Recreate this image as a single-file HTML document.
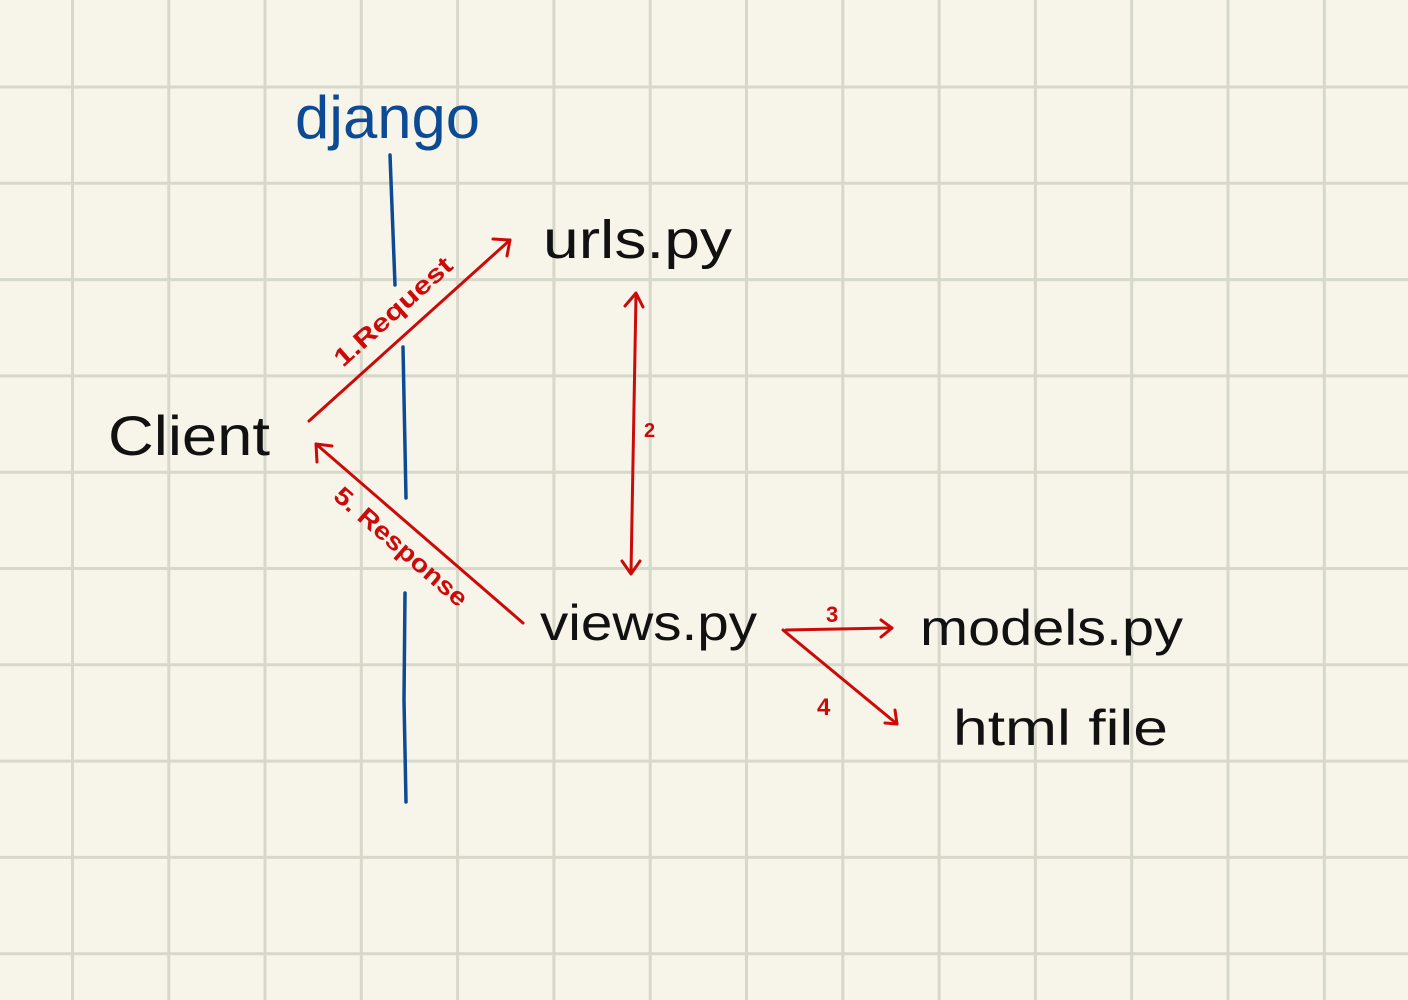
<!DOCTYPE html>
<html><head><meta charset="utf-8"><style>
html,body{margin:0;padding:0;background:#f7f5e9;}
svg{display:block}
text{font-family:"Liberation Sans",sans-serif}
</style></head><body>
<svg width="1408" height="1000" viewBox="0 0 1408 1000" xmlns="http://www.w3.org/2000/svg">
<rect width="1408" height="1000" fill="#f7f5e9"/>
<g stroke="#d6d8ca" stroke-width="3">
<line x1="72.5" y1="0" x2="72.5" y2="1000"/><line x1="168.8" y1="0" x2="168.8" y2="1000"/>
<line x1="265" y1="0" x2="265" y2="1000"/><line x1="361.3" y1="0" x2="361.3" y2="1000"/>
<line x1="457.6" y1="0" x2="457.6" y2="1000"/><line x1="553.9" y1="0" x2="553.9" y2="1000"/>
<line x1="650.2" y1="0" x2="650.2" y2="1000"/><line x1="746.5" y1="0" x2="746.5" y2="1000"/>
<line x1="842.8" y1="0" x2="842.8" y2="1000"/><line x1="939.1" y1="0" x2="939.1" y2="1000"/>
<line x1="1035.4" y1="0" x2="1035.4" y2="1000"/><line x1="1131.7" y1="0" x2="1131.7" y2="1000"/>
<line x1="1228" y1="0" x2="1228" y2="1000"/><line x1="1324.3" y1="0" x2="1324.3" y2="1000"/>
<line x1="0" y1="87" x2="1408" y2="87"/><line x1="0" y1="183.3" x2="1408" y2="183.3"/>
<line x1="0" y1="279.6" x2="1408" y2="279.6"/><line x1="0" y1="375.9" x2="1408" y2="375.9"/>
<line x1="0" y1="472.2" x2="1408" y2="472.2"/><line x1="0" y1="568.5" x2="1408" y2="568.5"/>
<line x1="0" y1="664.8" x2="1408" y2="664.8"/><line x1="0" y1="761.1" x2="1408" y2="761.1"/>
<line x1="0" y1="857.4" x2="1408" y2="857.4"/><line x1="0" y1="953.7" x2="1408" y2="953.7"/>
</g>
<g stroke="#0d4a94" stroke-width="3.5" fill="none" stroke-linecap="round">
<path d="M390 155 L395 285"/>
<path d="M403 347 L406 498"/>
<path d="M405 593 L404 700 L406 802"/>
</g>
<text x="295" y="138" font-size="60" fill="#0d4a94" textLength="185" lengthAdjust="spacingAndGlyphs">django</text>
<text x="108" y="455" font-size="56" fill="#111" textLength="162" lengthAdjust="spacingAndGlyphs">Client</text>
<text x="543" y="258" font-size="54" fill="#111" textLength="189" lengthAdjust="spacingAndGlyphs">urls.py</text>
<text x="540" y="640" font-size="50" fill="#111" textLength="217" lengthAdjust="spacingAndGlyphs">views.py</text>
<text x="920" y="645" font-size="50" fill="#111" textLength="263" lengthAdjust="spacingAndGlyphs">models.py</text>
<text x="953" y="745" font-size="50" fill="#111" textLength="215" lengthAdjust="spacingAndGlyphs">html file</text>
<g stroke="#cc0a0a" stroke-width="3" fill="none" stroke-linecap="round" stroke-linejoin="round">
<path d="M309 421 L510 240"/><path d="M493 239 L510 240 L507 256"/>
<path d="M523 623 L316 444"/><path d="M317 462 L316 444 L332 446"/>
<path d="M636 295 L631 573"/><path d="M625 306 L636 293 L643 307"/><path d="M622 561 L631 574 L640 561"/>
<path d="M786 630 L892 628"/><path d="M881 620 L892 628 L881 637"/>
<path d="M783 630 L897 724"/><path d="M885 723 L897 724 L895 710"/>
</g>
<g fill="#cc0a0a" font-weight="bold">
<text x="0" y="0" font-size="25" transform="translate(343,368) rotate(-42)" textLength="150" lengthAdjust="spacingAndGlyphs">1.Request</text>
<text x="0" y="0" font-size="25" transform="translate(332,498) rotate(41)" textLength="168" lengthAdjust="spacingAndGlyphs">5. Response</text>
<text x="644" y="437" font-size="20">2</text>
<text x="826" y="622" font-size="22">3</text>
<text x="817" y="715" font-size="24">4</text>
</g>
</svg>
</body></html>
